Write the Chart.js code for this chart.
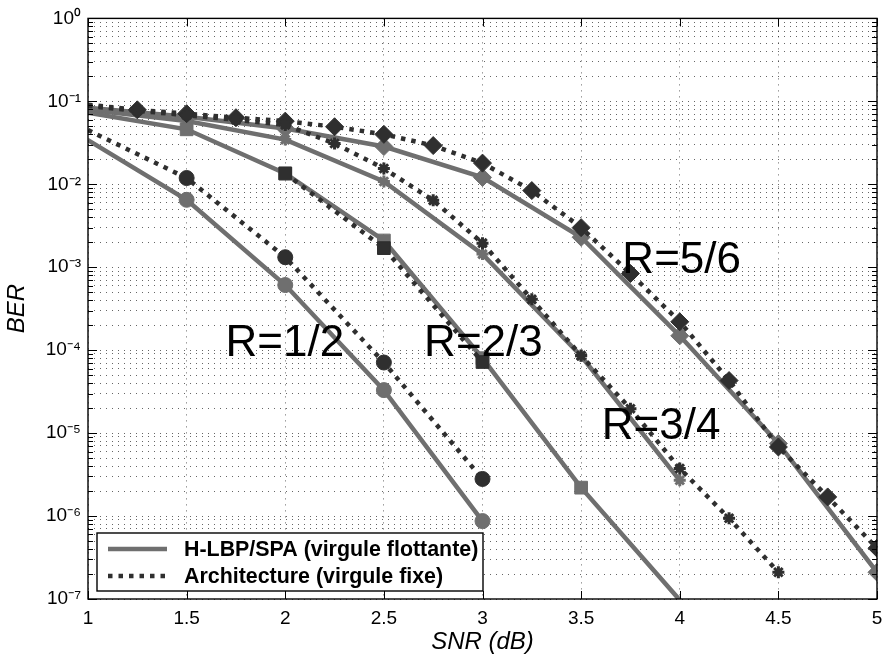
<!DOCTYPE html>
<html>
<head>
<meta charset="utf-8">
<script src="https://cdn.jsdelivr.net/npm/chart.js@4/dist/chart.umd.min.js"></script>
<style>
html,body{margin:0;padding:0;background:#fff;}
canvas{display:block;}
</style>
</head>
<body>
<canvas id="c" width="887" height="661"></canvas>
<script>
// ---------- data ----------
const snrTicks = [1, 1.5, 2, 2.5, 3, 3.5, 4, 4.5, 5];
const snrTickLabels = ['1', '1.5', '2', '2.5', '3', '3.5', '4', '4.5', '5'];
const berDecades = [1e-7, 1e-6, 1e-5, 1e-4, 1e-3, 1e-2, 1e-1, 1];
const berDecadeLabels = ['10\u207B\u2077', '10\u207B\u2076', '10\u207B\u2075', '10\u207B\u2074', '10\u207B\u00B3', '10\u207B\u00B2', '10\u207B\u00B9', '10\u2070'];

const snrR12 = [1, 1.5, 2, 2.5, 3];
const berR12Float = [3.4e-2, 6.5e-3, 6.1e-4, 3.3e-5, 8.7e-7];
const berR12Fixed = [4.5e-2, 1.19e-2, 1.32e-3, 7.1e-5, 2.8e-6];

const snrR23Float = [1, 1.5, 2, 2.5, 3, 3.5, 4];
const berR23Float = [7.3e-2, 4.6e-2, 1.35e-2, 2.1e-3, 8.0e-5, 2.2e-6, 9.7e-8];
const snrR23Fixed = [2, 2.5, 3];
const berR23Fixed = [1.35e-2, 1.7e-3, 7.2e-5];

const snrR34Float = [1, 1.5, 2, 2.5, 3, 3.5, 4];
const berR34Float = [7.9e-2, 5.8e-2, 3.46e-2, 1.08e-2, 1.44e-3, 8.5e-5, 2.7e-6];
const snrR34Fixed = [1, 1.25, 1.5, 1.75, 2, 2.25, 2.5, 2.75, 3, 3.25, 3.5, 3.75, 4, 4.25, 4.5];
const berR34Fixed = [8.8e-2, 7.7e-2, 6.8e-2, 6.0e-2, 5.2e-2, 3.1e-2, 1.55e-2, 6.4e-3, 1.95e-3, 4.1e-4, 8.6e-5, 1.97e-5, 3.75e-6, 9.4e-7, 2.1e-7];

const snrR56Float = [1, 1.5, 2, 2.5, 3, 3.5, 4, 4.5, 5];
const berR56Float = [8.4e-2, 6.5e-2, 4.7e-2, 2.85e-2, 1.21e-2, 2.3e-3, 1.49e-4, 7.5e-6, 2.1e-7];
const snrR56Fixed = [1, 1.25, 1.5, 1.75, 2, 2.25, 2.5, 2.75, 3, 3.25, 3.5, 3.75, 4, 4.25, 4.5, 4.75, 5];
const berR56Fixed = [9.1e-2, 7.9e-2, 7.1e-2, 6.35e-2, 5.77e-2, 4.94e-2, 4.0e-2, 2.93e-2, 1.8e-2, 8.4e-3, 3.0e-3, 8.4e-4, 2.2e-4, 4.3e-5, 6.8e-6, 1.7e-6, 4.1e-7];

const legendLabels = ['H-LBP/SPA (virgule flottante)', 'Architecture (virgule fixe)'];
const rateLabels = ['R=1/2', 'R=2/3', 'R=3/4', 'R=5/6'];
const rateLabelSnr = [1.697, 2.704, 3.605, 3.709];
const rateLabelBer = [8.4e-5, 8.4e-5, 8.4e-6, 8.6e-4];

// ---------- styles ----------
const GRAY = '#6f6f6f';
const DARK = '#2f2f2f';
const LW = 4.5;
const DOT = [4.5, 6];

function pts(xs, ys) { return xs.map((x, i) => ({ x: x, y: ys[i] })); }
function radiusFn(r) {
  return (ctx) => {
    const p = ctx.raw;
    if (!p) return r;
    return (p.x === 1 || p.y < 1e-7) ? 0 : r;
  };
}
function ds(label, xs, ys, color, dashed, style, r, bw) {
  return {
    label: label,
    data: pts(xs, ys),
    borderColor: color,
    backgroundColor: color,
    borderWidth: LW,
    borderDash: dashed ? DOT : [],
    pointStyle: style,
    pointRadius: radiusFn(r),
    pointHoverRadius: radiusFn(r),
    pointBackgroundColor: color,
    pointBorderColor: color,
    pointBorderWidth: bw,
    tension: 0,
    fill: false
  };
}

const datasets = [
  // fixed point (drawn on top)
  ds('R=1/2 fixe', snrR12, berR12Fixed, DARK, true, 'circle', 7.5, 1),
  ds('R=2/3 fixe', snrR23Fixed, berR23Fixed, DARK, true, 'rect', 9, 1),
  ds('R=3/4 fixe', snrR34Fixed, berR34Fixed, DARK, true, 'star', 6, 3),
  ds('R=5/6 fixe', snrR56Fixed, berR56Fixed, DARK, true, 'rectRot', 9, 1),
  // floating point
  ds('R=1/2 flottant', snrR12, berR12Float, GRAY, false, 'circle', 7.5, 1),
  ds('R=2/3 flottant', snrR23Float, berR23Float, GRAY, false, 'rect', 9, 1),
  ds('R=3/4 flottant', snrR34Float, berR34Float, GRAY, false, 'star', 6, 3),
  ds('R=5/6 flottant', snrR56Float, berR56Float, GRAY, false, 'rectRot', 9, 1)
];

const allYTicks = [];
for (let e = -7; e <= 0; e++) {
  for (let m = 1; m <= 9; m++) {
    const v = m * Math.pow(10, e);
    if (v <= 1.0000001) allYTicks.push(v);
  }
}
function decadeIndex(v) {
  return berDecades.findIndex(d => Math.abs(Math.log10(v) - Math.log10(d)) < 1e-6);
}

const FONT = "'Liberation Sans', Arial, Helvetica, sans-serif";
const GRID = 'rgba(0,0,0,0.6)';

const decor = {
  id: 'decor',
  afterDraw(chart) {
    const { ctx, chartArea: a, scales: { x, y } } = chart;
    ctx.save();
    ctx.setLineDash([]);
    // inner tick marks
    ctx.strokeStyle = '#000';
    ctx.lineWidth = 1;
    ctx.beginPath();
    snrTicks.forEach(v => {
      const px = Math.round(x.getPixelForValue(v)) + 0.5;
      ctx.moveTo(px, a.bottom); ctx.lineTo(px, a.bottom - 8);
      ctx.moveTo(px, a.top); ctx.lineTo(px, a.top + 8);
    });
    allYTicks.forEach(v => {
      const py = Math.round(y.getPixelForValue(v)) + 0.5;
      const len = decadeIndex(v) >= 0 ? 9 : 5;
      ctx.moveTo(a.left, py); ctx.lineTo(a.left + len, py);
      ctx.moveTo(a.right, py); ctx.lineTo(a.right - len, py);
    });
    ctx.stroke();
    // frame
    ctx.lineWidth = 1.4;
    ctx.strokeRect(a.left, a.top, a.right - a.left, a.bottom - a.top);

    // rate annotations
    ctx.fillStyle = '#000';
    ctx.font = '44px ' + FONT;
    ctx.textBaseline = 'alphabetic';
    ctx.textAlign = 'left';
    rateLabels.forEach((t, i) => {
      ctx.fillText(t, x.getPixelForValue(rateLabelSnr[i]), y.getPixelForValue(rateLabelBer[i]));
    });

    // legend
    const bx = a.left + 9, bw = 386, bh = 58, by = a.bottom - 8 - bh;
    ctx.fillStyle = '#fff';
    ctx.fillRect(bx, by, bw, bh);
    ctx.strokeStyle = '#000';
    ctx.lineWidth = 1.4;
    ctx.strokeRect(bx, by, bw, bh);
    const rows = [by + 16, by + 43];
    const lineStyles = [{ c: GRAY, d: [] }, { c: DARK, d: DOT }];
    ctx.font = 'bold 21.4px ' + FONT;
    ctx.textBaseline = 'middle';
    legendLabels.forEach((t, i) => {
      ctx.beginPath();
      ctx.strokeStyle = lineStyles[i].c;
      ctx.lineWidth = LW;
      ctx.setLineDash(lineStyles[i].d);
      ctx.moveTo(bx + 11, rows[i]);
      ctx.lineTo(bx + 70, rows[i]);
      ctx.stroke();
      ctx.setLineDash([]);
      ctx.fillStyle = '#000';
      ctx.fillText(t, bx + 87, rows[i] + 1);
    });
    ctx.restore();
  }
};

new Chart(document.getElementById('c'), {
  type: 'line',
  data: { datasets: datasets },
  plugins: [decor],
  options: {
    responsive: false,
    animation: false,
    devicePixelRatio: 1,
    layout: { padding: { top: 16, right: 8, bottom: 0, left: 0 } },
    plugins: { legend: { display: false }, tooltip: { enabled: false } },
    scales: {
      x: {
        type: 'linear',
        min: 1, max: 5,
        afterBuildTicks: (s) => { s.ticks = snrTicks.map(v => ({ value: v })); },
        afterFit: (s) => { s.height = 62; },
        ticks: {
          autoSkip: false, maxRotation: 0, padding: 0, color: '#000',
          font: { family: FONT, size: 19 },
          callback: (v) => { const i = snrTicks.indexOf(v); return i >= 0 ? snrTickLabels[i] : ''; }
        },
        grid: { color: GRID, lineWidth: 1, drawTicks: true, tickLength: 8, tickColor: 'rgba(0,0,0,0)' },
        border: { display: false, dash: [1, 5] },
        title: {
          display: true, text: 'SNR (dB)', color: '#000',
          font: { family: FONT, size: 24, style: 'italic' },
          padding: { top: 0, bottom: 4 }
        }
      },
      y: {
        type: 'logarithmic',
        min: 1e-7, max: 1,
        afterBuildTicks: (s) => { s.ticks = allYTicks.map(v => ({ value: v })); },
        afterFit: (s) => { s.width = 88; },
        ticks: {
          autoSkip: false, padding: 7, color: '#000',
          font: { family: FONT, size: 19 },
          callback: (v) => { const i = decadeIndex(v); return i >= 0 ? berDecadeLabels[i] : ''; }
        },
        grid: { color: GRID, lineWidth: 1, drawTicks: false },
        border: { display: false, dash: [1, 5] },
        title: {
          display: true, text: 'BER', color: '#000',
          font: { family: FONT, size: 24, style: 'italic' },
          padding: { top: 3, bottom: 0 }
        }
      }
    }
  }
});
</script>
</body>
</html>
